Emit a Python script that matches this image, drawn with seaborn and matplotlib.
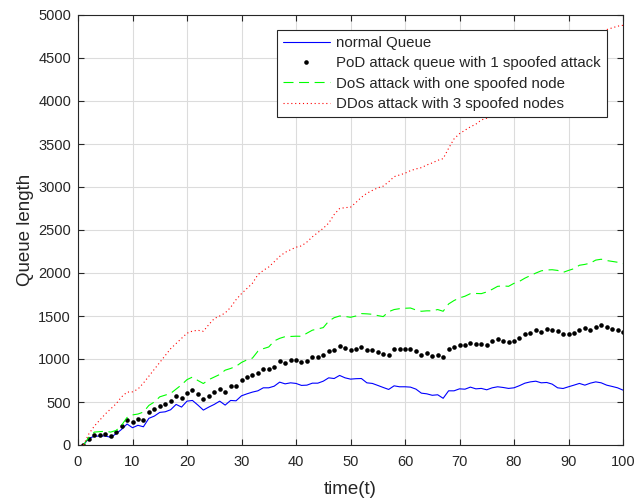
import numpy as np
import pandas as pd
import seaborn as sns
import matplotlib
matplotlib.use("Agg")
import matplotlib.pyplot as plt

# ---------------- data ----------------
time = list(range(1, 101))

normal_queue = [0, 78, 101, 105, 105, 89, 131, 182, 244, 201,
                229, 212, 310, 336, 379, 386, 410, 472, 441, 510,
                518, 464, 406, 441, 472, 510, 464, 518, 514, 572,
                595, 615, 630, 665, 665, 684, 731, 711, 723, 716,
                693, 696, 719, 719, 742, 781, 773, 809, 781, 766,
                771, 773, 723, 716, 693, 669, 646, 688, 677, 677,
                673, 650, 603, 595, 578, 584, 543, 630, 630, 653,
                649, 673, 653, 658, 642, 665, 677, 669, 658, 665,
                690, 719, 734, 742, 723, 727, 708, 665, 657, 677,
                696, 716, 696, 719, 734, 723, 696, 681, 665, 638]

pod_queue = [0, 73, 113, 116, 128, 101, 151, 217, 290, 263,
             298, 290, 379, 418, 456, 479, 514, 568, 549, 607,
             638, 588, 534, 572, 611, 650, 611, 681, 688, 754,
             792, 812, 841, 885, 885, 905, 974, 951, 990, 983,
             963, 978, 1021, 1021, 1048, 1090, 1102, 1152, 1125, 1106,
             1114, 1137, 1102, 1102, 1079, 1056, 1048, 1114, 1114, 1114,
             1114, 1094, 1052, 1067, 1040, 1052, 1021, 1120, 1140, 1160,
             1160, 1187, 1172, 1175, 1168, 1210, 1233, 1214, 1203, 1214,
             1249, 1291, 1303, 1337, 1318, 1349, 1334, 1330, 1287, 1287,
             1303, 1337, 1357, 1341, 1368, 1395, 1372, 1349, 1341, 1310]

dos_queue = [0, 90, 150, 155, 160, 150, 170, 230, 320, 350,
             360, 383, 460, 500, 560, 580, 600, 650, 700, 760,
             790, 750, 715, 760, 790, 820, 870, 890, 915, 960,
             990, 1010, 1090, 1120, 1140, 1210, 1240, 1260, 1262, 1265,
             1264, 1300, 1335, 1350, 1365, 1440, 1480, 1500, 1495, 1485,
             1500, 1528, 1525, 1520, 1505, 1493, 1550, 1575, 1585, 1590,
             1593, 1570, 1555, 1560, 1560, 1575, 1555, 1640, 1680, 1710,
             1730, 1760, 1762, 1760, 1780, 1810, 1845, 1850, 1845, 1880,
             1903, 1940, 1970, 1999, 2025, 2035, 2038, 2030, 2007, 2030,
             2050, 2090, 2100, 2115, 2150, 2160, 2145, 2135, 2125, 2110]

ddos_queue = [0, 130, 220, 290, 360, 420, 480, 560, 615, 618,
              650, 720, 800, 880, 960, 1040, 1120, 1180, 1240, 1300,
              1325, 1334, 1322, 1400, 1470, 1500, 1535, 1600, 1690, 1760,
              1820, 1880, 1980, 2030, 2070, 2130, 2193, 2240, 2270, 2300,
              2315, 2360, 2420, 2470, 2520, 2580, 2680, 2750, 2760, 2765,
              2820, 2880, 2927, 2960, 2990, 3010, 3060, 3120, 3140, 3160,
              3190, 3210, 3225, 3256, 3280, 3310, 3330, 3450, 3560, 3620,
              3660, 3700, 3730, 3780, 3800, 3850, 3880, 3930, 3960, 4020,
              4060, 4090, 4160, 4200, 4240, 4310, 4350, 4390, 4460, 4500,
              4570, 4610, 4650, 4720, 4760, 4800, 4830, 4850, 4870, 4880]

labels = ["normal Queue",
          "PoD attack queue with 1 spoofed attack",
          "DoS attack with one spoofed node",
          "DDos attack with 3 spoofed nodes"]

x_ticks = list(range(0, 101, 10))
y_ticks = list(range(0, 5001, 500))

df = pd.DataFrame({"time": time, "normal": normal_queue, "pod": pod_queue,
                   "dos": dos_queue, "ddos": ddos_queue})

# ---------------- style ----------------
sns.set_style("ticks")
plt.rcParams["font.family"] = ["Liberation Sans", "DejaVu Sans"]
plt.rcParams["axes.edgecolor"] = "#262626"
plt.rcParams["xtick.color"] = "#262626"
plt.rcParams["ytick.color"] = "#262626"

fig = plt.figure(figsize=(6.38, 5.04), dpi=100)
ax = fig.add_axes([78 / 638, 1 - 445 / 504, 545 / 638, 430 / 504])

sns.lineplot(data=df, x="time", y="normal", ax=ax, color="#0000ff",
             linewidth=0.8, label=labels[0])
sns.lineplot(data=df, x="time", y="pod", ax=ax, color="black",
             linestyle="", marker="o", markersize=3.3, markeredgewidth=0,
             label=labels[1])
sns.lineplot(data=df, x="time", y="dos", ax=ax, color="#00ff00",
             linewidth=0.8, dashes=False, label=labels[2])
sns.lineplot(data=df, x="time", y="ddos", ax=ax, color="#ff0000",
             linewidth=0.8, label=labels[3])

lines = ax.get_lines()
lines[2].set_linestyle((0, (9, 5)))
lines[3].set_linestyle((0, (1, 2.5)))

ax.set_xlim(0, 100)
ax.set_ylim(0, 5000)
ax.set_xticks(x_ticks)
ax.set_yticks(y_ticks)
ax.tick_params(direction="in", length=4, width=0.8, top=True, right=True,
               labelsize=10.5)
ax.tick_params(axis="x", pad=7)
ax.tick_params(axis="y", pad=5)
ax.grid(True, color="#dcdcdc", linewidth=0.8)
ax.set_axisbelow(True)
for s in ax.spines.values():
    s.set_linewidth(0.8)
    s.set_visible(True)

ax.set_xlabel("time(t)", fontsize=13.5, labelpad=9)
ax.set_ylabel("Queue length", fontsize=13.5, labelpad=3)

leg = ax.legend(loc="upper right", bbox_to_anchor=(0.9706, 0.965),
                borderaxespad=0, fancybox=False, framealpha=1,
                edgecolor="#262626", fontsize=10.8, handlelength=3.1,
                handletextpad=0.45, labelspacing=0.42, borderpad=0.4)
leg.get_frame().set_linewidth(0.8)

fig.savefig("out.png", dpi=100)
